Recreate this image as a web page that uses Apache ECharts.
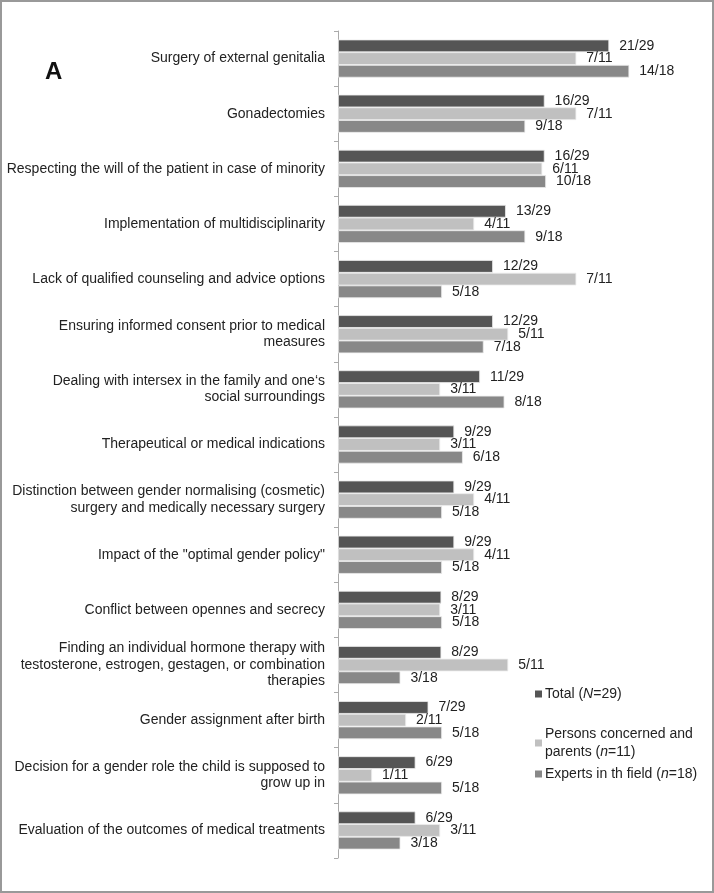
<!DOCTYPE html>
<html>
<head>
<meta charset="utf-8">
<script src="https://cdn.jsdelivr.net/npm/echarts@6/dist/echarts.min.js"></script>
<style>
html,body{margin:0;padding:0;background:#fff;}
#chart{width:714px;height:893px;}
</style>
</head>
<body>
<div id="chart"></div>
<script>
const categories = [
  "Surgery of external genitalia",
  "Gonadectomies",
  "Respecting the will of the patient in case of minority",
  "Implementation of multidisciplinarity",
  "Lack of qualified counseling and advice options",
  "Ensuring informed consent prior to medical\nmeasures",
  "Dealing with intersex in the family and one\u2018s\nsocial surroundings",
  "Therapeutical or medical indications",
  "Distinction between gender normalising (cosmetic)\nsurgery and medically necessary surgery",
  "Impact of the \"optimal gender policy\"",
  "Conflict between opennes and secrecy",
  "Finding an individual hormone therapy with\ntestosterone, estrogen, gestagen, or combination\ntherapies",
  "Gender assignment after birth",
  "Decision for a gender role the child is supposed to\ngrow up in",
  "Evaluation of the outcomes of medical treatments"
];
const totalCounts   = [21,16,16,13,12,12,11,9,9,9,8,8,7,6,6];
const personsCounts = [7,7,6,4,7,5,3,3,4,4,3,5,2,1,3];
const expertsCounts = [14,9,10,9,5,7,8,6,5,5,5,3,5,5,3];
const totalN = 29, personsN = 11, expertsN = 18;
const seriesNames = ["Total (N=29)", "Persons concerned and parents (n=11)", "Experts in th field (n=18)"];
const colors = ["#555555", "#c0c0c0", "#888888"];

const FONT = "Liberation Sans, Arial, sans-serif";

function mkData(counts, n){
  return counts.map(c => ({value: c / n, count: c, n: n}));
}

const legendRich = {
  a: {fontFamily: FONT, fontSize: 14, color: "#222", lineHeight: 18},
  i: {fontFamily: FONT, fontSize: 14, color: "#222", fontStyle: "italic", lineHeight: 18}
};
function legendFmt(name){
  if (name === seriesNames[0]) return "{a|Total (}{i|N}{a|=29)}";
  if (name === seriesNames[1]) return "{a|Persons concerned and}\n{a|parents (}{i|n}{a|=11)}";
  return "{a|Experts in th field (}{i|n}{a|=18)}";
}
function mkLegend(idx, top){
  return {
    data: [seriesNames[idx]], left: 530, top: top, orient: "vertical",
    icon: "rect", itemWidth: 7, itemHeight: 7, itemGap: 0,
    itemStyle: {borderWidth: 0},
    formatter: legendFmt, selectedMode: false,
    textStyle: {rich: legendRich, padding: [0,0,0,-2]}
  };
}

function mkSeries(idx, counts, n){
  return {
    name: seriesNames[idx], type: "bar",
    data: mkData(counts, n),
    barWidth: 12.7, barGap: "0%",
    itemStyle: {color: colors[idx], borderColor: "#ececec", borderWidth: 0.8},
    label: {
      show: true, position: "right", distance: 10,
      fontFamily: FONT, fontSize: 14, color: "#222",
      formatter: p => p.data.count + "/" + p.data.n
    },
    animation: false
  };
}

const chart = echarts.init(document.getElementById("chart"), null, {renderer: "canvas"});
chart.setOption({
  animation: false,
  backgroundColor: "#fff",
  title: {text: "A", left: 40, top: 55, textStyle: {fontFamily: FONT, fontSize: 24, fontWeight: "bold", color: "#111"}},
  graphic: [{type: "rect", shape: {x: 1, y: 1, width: 712, height: 891}, style: {fill: "none", stroke: "#999", lineWidth: 2}, silent: true}],
  legend: [mkLegend(0, 682), mkLegend(1, 722), mkLegend(2, 762)],
  grid: {left: 338, right: 1.5, top: 31, bottom: 35, containLabel: false},
  xAxis: {type: "value", min: 0, max: 1, show: false},
  yAxis: {
    type: "category", data: categories, inverse: true,
    axisLine: {show: true, lineStyle: {color: "#aaa", width: 1}},
    axisTick: {show: true, length: 4, lineStyle: {color: "#aaa"}},
    axisLabel: {
      margin: 13, align: "right",
      fontFamily: FONT, fontSize: 14, color: "#222", lineHeight: 16.5
    }
  },
  series: [
    mkSeries(0, totalCounts, totalN),
    mkSeries(1, personsCounts, personsN),
    mkSeries(2, expertsCounts, expertsN)
  ]
});
</script>
</body>
</html>
